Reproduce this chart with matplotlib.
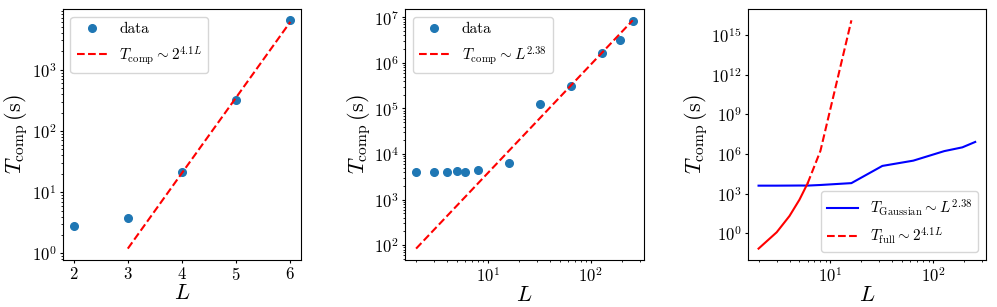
import numpy as np
import matplotlib
matplotlib.use('Agg')
import matplotlib.pyplot as plt
import matplotlib.ticker as mticker

plt.rcParams['font.family'] = 'serif'
plt.rcParams['font.serif'] = ['cmr10']
plt.rcParams['mathtext.fontset'] = 'cm'
plt.rcParams['axes.formatter.use_mathtext'] = True
plt.rcParams['axes.unicode_minus'] = False
plt.rcParams['xtick.major.size'] = 2.5
plt.rcParams['ytick.major.size'] = 2.5
plt.rcParams['xtick.minor.size'] = 1.5
plt.rcParams['ytick.minor.size'] = 1.5
plt.rcParams['xtick.major.pad'] = 2
plt.rcParams['ytick.major.pad'] = 2
plt.rcParams['xtick.minor.pad'] = 2
plt.rcParams['ytick.minor.pad'] = 2

# panel 1: full simulation, small L
L_full = [2, 3, 4, 5, 6]
T_full = [2.8, 3.8, 21.5, 324, 6400]
fitL_full = [3, 4, 5, 6]
fitT_full = [1.2, 20.6, 352, 6030]

# panel 2: gaussian simulation
L_gauss = [2, 3, 4, 5, 6, 8, 16, 32, 64, 128, 192, 256]
T_gauss = [4050, 4050, 4100, 4150, 4100, 4550, 6300, 126000, 316000, 1.66e6, 3.2e6, 8.2e6]
fitL_gauss = [2, 256]
fitT_gauss = [84, 8.6e6]

# panel 3: extrapolated cost of full simulation
extL_lo = [2, 3, 4, 5, 6]
extT_lo = [0.07, 1.2, 20.6, 352, 6030]
extL_hi = [6, 8, 16]
extT_hi = [6030, 1.76e6, 1.3e16]

lab_fs = 16
tick_fs = 12
leg_fs = 11
ylab = r'$T_{\rm comp}\,(\rm s)$'

fig, axs = plt.subplots(1, 3, figsize=(9.97, 3.07), dpi=100)
plt.subplots_adjust(left=0.063, right=0.989, top=0.971, bottom=0.153, wspace=0.437)

ax = axs[0]
ax.plot(L_full, T_full, 'o', color='C0', ms=5.5, label='data')
ax.plot(fitL_full, fitT_full, 'r--', label=r'$T_{\rm comp}\sim 2^{4.1L}$')
ax.set_yscale('log')
ax.set_xticks([2, 3, 4, 5, 6])

ax = axs[1]
ax.plot(L_gauss, T_gauss, 'o', color='C0', ms=5.5, label='data')
ax.plot(fitL_gauss, fitT_gauss, 'r--', label=r'$T_{\rm comp}\sim L^{2.38}$')
ax.set_xscale('log')
ax.set_yscale('log')

ax = axs[2]
ax.plot(L_gauss, T_gauss, 'b-', label=r'$T_{\rm Gaussian}\sim L^{2.38}$')
ax.plot(extL_lo, extT_lo, 'r-')
ax.plot(extL_hi, extT_hi, 'r--', label=r'$T_{\rm full}\sim 2^{4.1L}$')
ax.set_xscale('log')
ax.set_yscale('log')
ax.yaxis.set_minor_locator(mticker.NullLocator())

for i, ax in enumerate(axs):
    ax.set_xlabel(r'$L$', fontsize=lab_fs, labelpad=0)
    ax.set_ylabel(ylab, fontsize=lab_fs, labelpad=1)
    ax.tick_params(labelsize=tick_fs)
    ax.legend(loc='lower right' if i == 2 else 'upper left', fontsize=leg_fs)

plt.savefig('out.png', dpi=100)
